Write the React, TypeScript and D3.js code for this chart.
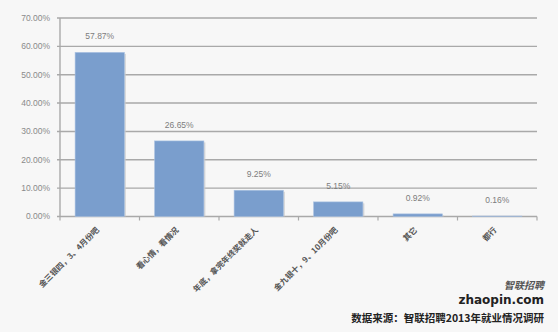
import React from "react";
import * as d3 from "d3";

const categories = [
  "金三银四，3、4月份吧",
  "看心情，看情况",
  "年底，拿完年终奖就走人",
  "金九银十，9、10月份吧",
  "其它",
  "都行",
];
const values = [57.87, 26.65, 9.25, 5.15, 0.92, 0.16];
const yTicks = [0, 10, 20, 30, 40, 50, 60, 70];
const sourceNote = "数据来源：智联招聘2013年就业情况调研";

const W = 558;
const H = 332;
const left = 60;
const right = 537;
const top = 18;
const bottom = 216.5;
const font = "'Noto Sans CJK SC', 'Noto Sans', sans-serif";

export default function App() {
  const x = d3.scaleBand<string>().domain(categories).range([left, right]).paddingInner(0.38).paddingOuter(0.19);
  const y = d3.scaleLinear().domain([0, 70]).range([bottom, top]);
  const step = x.step();
  const bw = x.bandwidth();

  return (
    <svg width={W} height={H} style={{ position: "absolute", left: 0, top: 0 }} fontFamily={font}>
      <rect width={W} height={H} fill="#f7f7f7" />
      {/* gridlines */}
      {yTicks.map((t) => (
        <g key={t}>
          <line x1={left - 3} x2={right} y1={y(t)} y2={y(t)} stroke="#a9a9a9" strokeWidth={1.4} />
          <text x={50} y={y(t)} dy="0.35em" textAnchor="end" fontSize={8.5} fill="#8a8a8a" fontFamily="'Liberation Sans', sans-serif">
            {t.toFixed(2) + "%"}
          </text>
        </g>
      ))}
      {/* y axis */}
      <line x1={left} x2={left} y1={top} y2={bottom} stroke="#a9a9a9" strokeWidth={1.4} />
      {/* x ticks */}
      {d3.range(categories.length + 1).map((i) => (
        <line key={i} x1={left + i * step} x2={left + i * step} y1={bottom} y2={bottom + 4} stroke="#a9a9a9" strokeWidth={1.2} />
      ))}
      {/* bars */}
      {categories.map((c, i) => {
        const bx = x(c)!;
        const by = y(values[i]);
        return (
          <g key={c}>
            <rect x={bx + 1.5} y={by + 1.5} width={bw} height={bottom - by - 1.5} fill="#c9c9c9" opacity={0.7} />
            <rect x={bx} y={by} width={bw} height={bottom - by} fill="#7a9ecd" stroke="#a8c1e2" strokeWidth={0.6} />
            <text x={bx + bw / 2} y={by - 13} textAnchor="middle" fontSize={8.5} fill="#7d7d7d" fontFamily="'Liberation Sans', sans-serif">
              {values[i].toFixed(2) + "%"}
            </text>
          </g>
        );
      })}
      {/* category labels */}
      {categories.map((c) => {
        const cx = x(c)! + bw / 2;
        const cy = bottom + 14;
        return (
          <text key={c} x={cx} y={cy} textAnchor="end" fontSize={8} fontWeight="bold" fill="#555" transform={`rotate(-45, ${cx}, ${cy})`}>
            {c}
          </text>
        );
      })}
      {/* brand mark */}
      <text x={544} y={289} textAnchor="end" fontSize={10} fontWeight="bold" fill="#555" fontStyle="italic">
        智联招聘
      </text>
      <text x={544} y={304} textAnchor="end" fontSize={12} fontWeight="bold" fill="#222" fontFamily="'DejaVu Sans', sans-serif">
        zhaopin.com
      </text>
      <text x={544} y={322} textAnchor="end" fontSize={10.5} fontWeight="bold" fill="#222">
        {sourceNote}
      </text>
    </svg>
  );
}
